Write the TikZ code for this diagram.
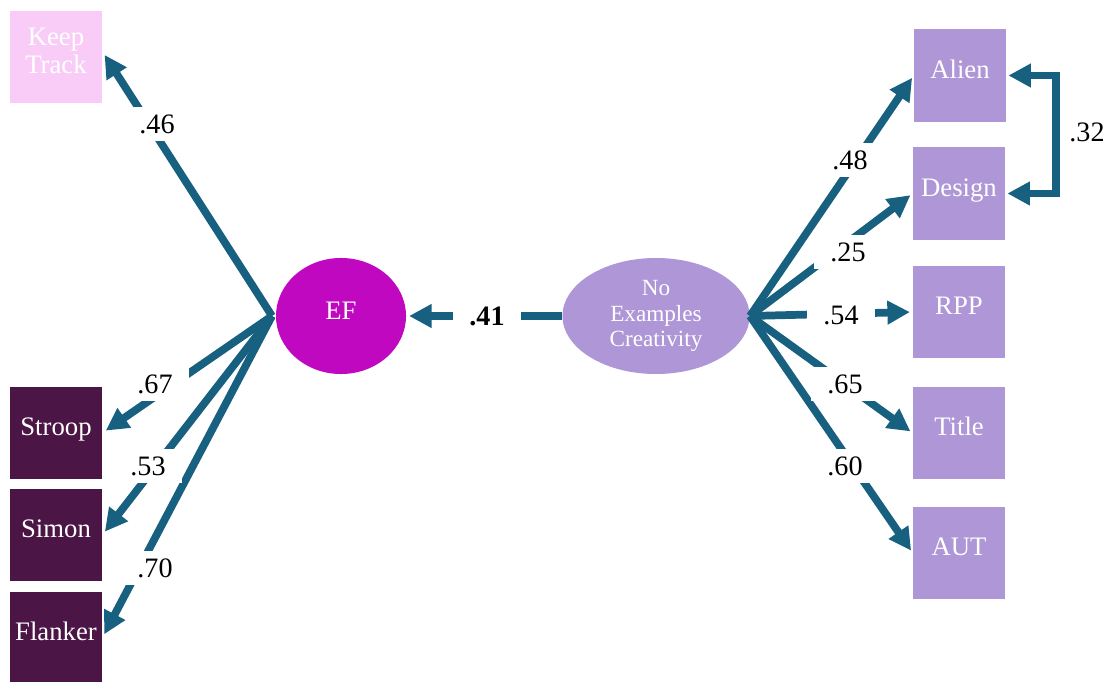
\documentclass[tikz,border=0pt]{standalone}
\usepackage{fontspec}
\setmainfont{Liberation Serif}
\newfontfamily\diagserif{Liberation Serif}
\usetikzlibrary{arrows.meta, shapes.geometric}

\definecolor{pathblue}{RGB}{23,96,128}
\definecolor{keeppink}{RGB}{249,204,247}
\definecolor{efplum}{RGB}{75,22,70}
\definecolor{efmagenta}{RGB}{192,8,192}
\definecolor{creatlav}{RGB}{175,150,214}

\begin{document}
\begin{tikzpicture}[
    x=0.025cm, y=-0.025cm,
    font=\diagserif\fontsize{19}{20}\selectfont,
    % Styles
    obs_box/.style={rectangle, minimum width=2.3cm, minimum height=2.3cm, inner sep=0pt, text=white, align=center, text depth=9pt},
    latent_node/.style={ellipse, inner sep=0pt, text=white, align=center, minimum height=2.9cm},
    path_arrow/.style={-{Triangle[length=16pt, width=16pt]}, line width=5.5pt, pathblue, shorten >=2pt},
    cov_arrow/.style={{Triangle[length=16pt, width=16pt]}-{Triangle[length=16pt, width=16pt]}, line width=5.5pt, pathblue, shorten >=1.5pt, shorten <=1.5pt},
    coef_label/.style={fill=white, inner xsep=12pt, inner ysep=5.5pt, font=\diagserif\fontsize{20}{21}\selectfont}
]
    \useasboundingbox (0,0) rectangle (1112,682);

    % ==========================================
    % 1. LATENT VARIABLES
    % ==========================================
    \node[latent_node, fill=efmagenta, minimum width=3.25cm, text depth=8pt] (ef) at (341,316) {EF};
    \node[latent_node, fill=creatlav, minimum width=4.675cm, font=\diagserif\fontsize{16.5}{18}\selectfont]
        (no_examples) at (656,316) {No\\Examples\\Creativity};

    \coordinate (ef_hub) at (272,316);
    \coordinate (cr_hub) at (750,316);

    % ==========================================
    % 2. OBSERVED INDICATORS
    % ==========================================
    % EF tasks
    \node[obs_box, fill=keeppink] (keep_track) at (56,57) {Keep\\Track};
    \node[obs_box, fill=efplum] (stroop) at (56,433) {Stroop};
    \node[obs_box, fill=efplum] (simon) at (56,535) {Simon};
    \node[obs_box, fill=efplum] (flanker) at (56,638) {Flanker};

    % Creativity tasks
    \node[obs_box, fill=creatlav] (alien) at (960,75.5) {Alien};
    \node[obs_box, fill=creatlav] (design) at (959,193.5) {Design};
    \node[obs_box, fill=creatlav] (rpp) at (959,312) {RPP};
    \node[obs_box, fill=creatlav] (title) at (959,433) {Title};
    \node[obs_box, fill=creatlav] (aut) at (959,553) {AUT};

    % ==========================================
    % 3. PATHS
    % ==========================================
    \draw[path_arrow, shorten >=3pt] (ef_hub) -- ([yshift=4pt]keep_track.east);
    \foreach \t in {stroop, simon, flanker} {
        \draw[path_arrow, shorten >=3pt] (ef_hub) -- (\t.east);
    }
    \foreach \t in {alien, design, rpp, title, aut} {
        \draw[path_arrow] (cr_hub) -- (\t.west);
    }
    \draw[path_arrow] (no_examples.west) -- (ef.east);

    % residual covariance
    \draw[cov_arrow] (alien.east) -- ++(50,0) |- (design.east);

    % ==========================================
    % 4. COEFFICIENTS (drawn last to cut the lines)
    % ==========================================
    \node[coef_label] (c_keep) at (157,124) {.46};
    \node[coef_label] (c_stroop) at (155,384) {.67};
    \node[coef_label] (c_simon) at (148,466) {.53};
    \node[coef_label] (c_flanker) at (155,568) {.70};
    \node[coef_label, font=\diagserif\fontsize{20}{21}\selectfont\bfseries] (c_ef) at (487,316) {.41};

    \node[coef_label] (c_alien) at (850,160) {.48};
    \node[coef_label] (c_design) at (848,252) {.25};
    \node[coef_label] (c_rpp) at (841,315) {.54};
    \node[coef_label] (c_title) at (845,384) {.65};
    \node[coef_label] (c_aut) at (845,466) {.60};
    \node[coef_label, fill=none, inner xsep=0pt] (c_cov) at (1087,132) {.32};

\end{tikzpicture}
\end{document}
